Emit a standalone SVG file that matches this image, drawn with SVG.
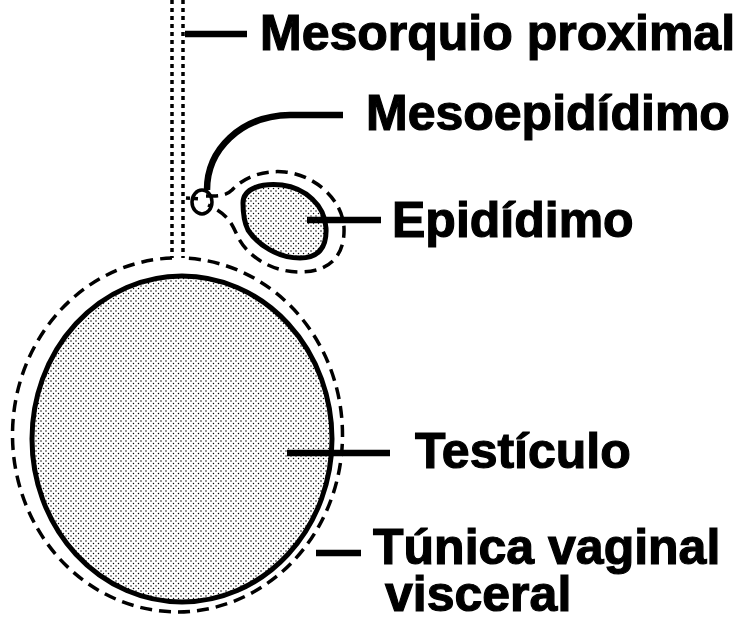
<svg xmlns="http://www.w3.org/2000/svg" width="751" height="623" viewBox="0 0 751 623">
  <defs>
    <!-- stipple used for the testis and epididymis -->
    <pattern id="stipple" width="5" height="5" patternUnits="userSpaceOnUse">
      <circle cx="1" cy="1" r="0.75" fill="#000"/>
      <circle cx="3.5" cy="3.5" r="0.75" fill="#000"/>
    </pattern>
  </defs>
  <style>
    .organ { fill: url(#stipple); stroke: #000; stroke-width: 5; }
    .tunic { fill: none; stroke: #000; stroke-width: 3.5; stroke-dasharray: 12 7; }
    .dotted { fill: none; stroke: #000; stroke-width: 3.5; stroke-dasharray: 4 4; }
    .leader { fill: none; stroke: #000; stroke-width: 6.5; }
    .label { font-family: "Liberation Sans", Arial, sans-serif; font-weight: bold; font-size: 50px; fill: #000; stroke: #000; stroke-width: 1.2; }
  </style>
  <rect width="751" height="623" fill="#fff"/>

  <!-- proximal mesorchium: two dotted folds descending to the testis -->
  <g id="mesorquio">
    <line class="dotted" x1="172" y1="0" x2="172" y2="258"/>
    <line class="dotted" x1="183" y1="0" x2="183" y2="258"/>
  </g>

  <!-- testis with its visceral vaginal tunic -->
  <g id="testiculo">
    <ellipse class="organ" cx="182" cy="439" rx="150" ry="163"/>
  </g>
  <g id="tunica-vaginal">
    <path class="tunic" d="M172,258 A165,177 0 1 0 183,258"/>
  </g>

  <!-- mesoepididymis: small ring where the fold attaches -->
  <g id="mesoepididimo">
    <ellipse cx="202" cy="202" rx="10" ry="12" fill="none" stroke="#000" stroke-width="3.5"/>
    <line class="dotted" x1="186" y1="198" x2="200" y2="199"/>
  </g>

  <!-- epididymis and its covering -->
  <g id="epididimo">
    <path class="organ" d="M243,203 C243,188 262,183 282,185 C305,188 325,205 326,228 C327,248 318,258 300,258 C278,258 258,245 248,230 C244,222 243,212 243,203 Z"/>
    <path class="tunic" d="M206,196 C218,196 226,196 232,190 C245,176 265,170 285,172 C315,175 343,200 344,228 C345,255 330,272 300,272 C270,272 246,255 237,235 C232,224 228,214 208,205"/>
  </g>

  <!-- label leaders -->
  <g id="connectors">
    <line class="leader" x1="185" y1="34" x2="247" y2="34"/>
    <path class="leader" d="M207,190 C207,150 240,116 290,115 L343,115"/>
    <line class="leader" x1="307" y1="220" x2="381" y2="220"/>
    <line class="leader" x1="287" y1="453" x2="390" y2="453"/>
    <line class="leader" x1="316" y1="553" x2="361" y2="553"/>
  </g>

  <!-- labels -->
  <g id="labels">
    <text class="label" x="260" y="50">Mesorquio proximal</text>
    <text class="label" x="366" y="130">Mesoepidídimo</text>
    <text class="label" x="392" y="237">Epidídimo</text>
    <text class="label" x="415" y="468">Testículo</text>
    <text class="label" x="373" y="564">Túnica vaginal<tspan x="385" y="611">visceral</tspan></text>
  </g>
</svg>
